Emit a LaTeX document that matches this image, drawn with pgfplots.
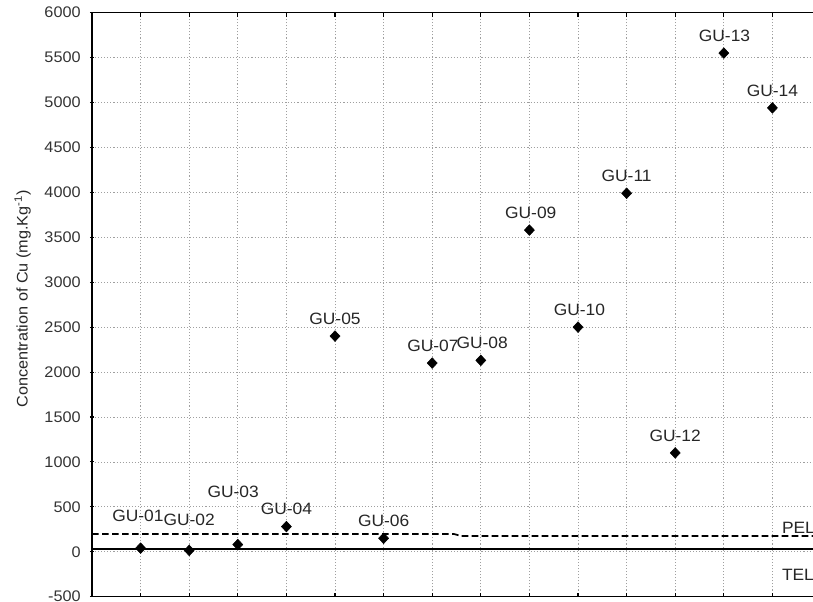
\documentclass[border=0pt]{standalone}
\usepackage{pgfplots}
\pgfplotsset{compat=1.18}
\usepackage{fontspec}
\setmainfont[FakeStretch=1.06]{Liberation Sans}
\begin{document}
\begin{tikzpicture}
\begin{axis}[
  at={(0,0)}, anchor=south west, scale only axis,
  width=540.75pt, height=438pt,
  xmin=0, xmax=14.835, ymin=-500, ymax=6000,
  axis x line=box, axis y line=left,
  axis line style={-, line width=1.1pt, black},
  xtick={1,...,14}, xticklabels={},
  ytick={-500,0,500,...,6000},
  tick style={black, line width=0.8pt},
  major tick length=3pt,
  grid=major,
  major grid style={gray!75, line width=0.55pt, dash pattern=on 0.8pt off 1.5pt},
  ticklabel style={font=\fontsize{11.5}{13}\selectfont, text=black!80},
  /pgf/number format/assume math mode=true,
  /pgf/number format/1000 sep={},
  yticklabel style={xshift=-3.5pt},
  ylabel={Concentration of Cu (mg.Kg\textsuperscript{-1})},
  ylabel style={at={(axis description cs:-0.0962,0.51)}, anchor=center, font=\fontsize{11.5}{13}\selectfont, text=black!85},
  clip=false,
]
\addplot[black, line width=1.3pt, dash pattern=on 5pt off 2.5pt] coordinates {(0,197) (7.45,197) (7.6,175) (14.835,175)};
\addplot[black, line width=1.5pt] coordinates {(0,35.7) (14.835,35.7)};
\addplot[only marks, mark=diamond*, mark size=4pt, black, mark options={xscale=1.25},
  nodes near coords, point meta=explicit symbolic,
  visualization depends on={value \thisrow{dy} \as \labdy},
  visualization depends on={value \thisrow{dx} \as \labdx},
  nodes near coords align={anchor=base},
  every node near coord/.append style={font=\fontsize{12.3}{14}\selectfont, xshift=\labdx pt, yshift=\labdy pt, text=black!85}]
table[x=x, y=y, meta=lab] {
x y lab dx dy
1 40 GU-01 -2 20
2 15 GU-02 0 19
3 80 GU-03 -3.5 35
4 280 GU-04 0 8.7
5 2400 GU-05 0 8.7
6 150 GU-06 0 8.7
7 2100 GU-07 0.5 8.7
8 2130 GU-08 1 8.7
9 3580 GU-09 1 8.7
10 2500 GU-10 1 8.7
11 3990 GU-11 0 8.7
12 1100 GU-12 0 8.7
13 5550 GU-13 0.5 8.7
14 4940 GU-14 0 8.7
};
\node[anchor=base west, font=\fontsize{12.3}{14}\selectfont, text=black!85] at (axis cs:14.1,205) {PEL};
\node[anchor=base west, font=\fontsize{12.3}{14}\selectfont, text=black!85] at (axis cs:14.1,-322) {TEL};
\end{axis}
\pgfresetboundingbox
\path (-69pt,-4pt) rectangle (540.75pt,447.5pt);
\end{tikzpicture}
\end{document}
